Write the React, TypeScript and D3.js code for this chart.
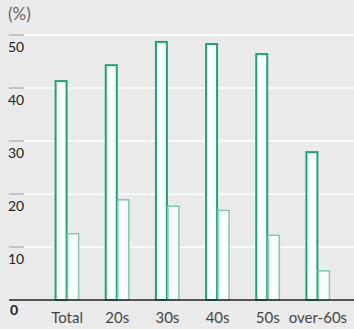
import React from "react";
import * as d3 from "d3";

const categories = ["Total", "20s", "30s", "40s", "50s", "over-60s"];
const seriesA = [41.3, 44.3, 48.7, 48.3, 46.4, 27.9];
const seriesB = [12.5, 18.9, 17.7, 16.9, 12.2, 5.5];
const yTicks = [10, 20, 30, 40, 50];

const W = 354;
const H = 329;
const FONT = "Lato, 'Open Sans', sans-serif";

export default function App() {
  const y = d3.scaleLinear().domain([0, 50]).range([300, 35]);
  const x = d3.scaleBand<string>().domain(categories).range([42, 343]).padding(0);
  const barW = 11;
  return (
    <svg width={W} height={H} style={{ position: "absolute", left: 0, top: 0 }}>
      <rect x={0} y={0} width={W} height={H} fill="#ebebeb" />
      <text x={8} y={20} fontFamily={FONT} fontSize={17} fill="#666">(%)</text>
      {yTicks.map((t) => (
        <g key={t}>
          <line x1={24} x2={W} y1={y(t)} y2={y(t)} stroke="#ffffff" strokeWidth={1.5} />
          <line x1={9} x2={24} y1={y(t)} y2={y(t)} stroke="#aaaaaa" strokeWidth={1.2} />
          <text x={8} y={y(t) + 17} fontFamily={FONT} fontSize={14} fill="#222">{t}</text>
        </g>
      ))}
      {categories.map((c, i) => {
        const cx = (x(c) as number) + x.bandwidth() / 2;
        return (
          <g key={c}>
            <rect x={cx - barW - 0.5} y={y(seriesA[i])} width={barW} height={y(0) - y(seriesA[i])}
              fill="#ffffff" stroke="#13a874" strokeWidth={2} />
            <rect x={cx + 0.5} y={y(seriesB[i])} width={barW} height={y(0) - y(seriesB[i])}
              fill="#ffffff" stroke="#80cfac" strokeWidth={1.6} />
            <text x={cx} y={323} textAnchor="middle" fontFamily={FONT} fontSize={15} fill="#444">{c}</text>
          </g>
        );
      })}
      <line x1={9} x2={W} y1={y(0)} y2={y(0)} stroke="#222" strokeWidth={1.5} />
      <text x={10} y={315} fontFamily={FONT} fontSize={14} fontWeight="bold" fill="#222">0</text>
    </svg>
  );
}
